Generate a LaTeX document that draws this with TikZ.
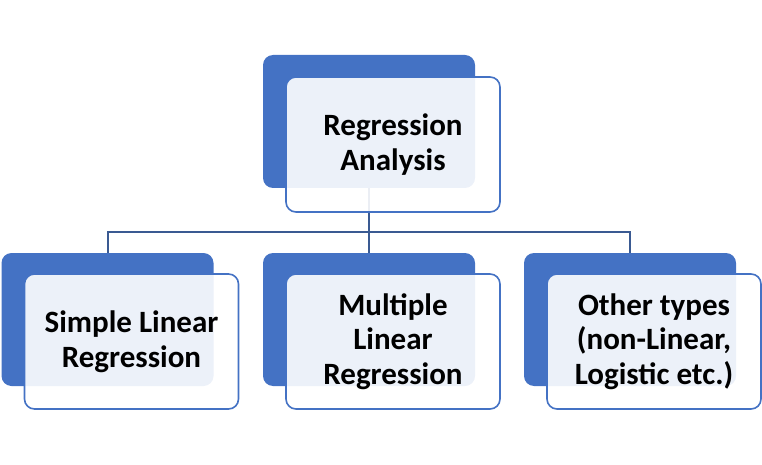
\documentclass[tikz,border=0pt]{standalone}
\usepackage{fontspec}
\setmainfont{Carlito}
\usetikzlibrary{positioning,calc}
\definecolor{boxblue}{HTML}{4472C4}
\definecolor{linkblue}{HTML}{3A5A92}
\begin{document}
\begin{tikzpicture}[x=1pt,y=1pt,
  backbox/.style={rectangle,rounded corners=10pt,fill=boxblue,minimum width=212pt,minimum height=133pt,inner sep=0pt},
  frontbox/.style={rectangle,rounded corners=10pt,draw=boxblue,line width=1.6pt,fill=white,fill opacity=0.9,text opacity=1,
    minimum width=214pt,minimum height=135pt,inner sep=0pt,align=center,
    font=\fontsize{31}{34.5}\selectfont\bfseries},
  link/.style={draw=linkblue,line width=2pt}]
\useasboundingbox (0,0) rectangle (762,464);
\node[backbox] (topb) at (369,342.5) {};
\foreach \x/\n in {107.5/lb,369/mb,630/rb}{
  \node[backbox] (\n) at (\x,144.5) {};
}
\coordinate (bus) at (369,232);
\draw[link] (topb.south) -- (mb.north);
\draw[link] (lb.north) |- (bus) -| (rb.north);
\node[frontbox] (topf) at ([shift={(24,-23)}]topb.center) {Regression\\Analysis};
\foreach \n/\lab in {lb/{Simple Linear\\Regression},mb/{Multiple\\Linear\\Regression},rb/{Other types\\(non-Linear,\\Logistic etc.)}}{
  \node[frontbox] (\n f) at ([shift={(24,-22)}]\n.center) {\lab};
}
\end{tikzpicture}
\end{document}
